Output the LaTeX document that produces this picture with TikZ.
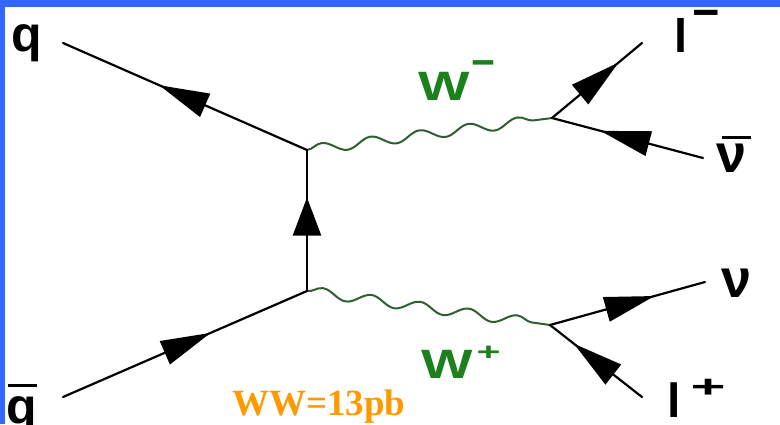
\documentclass[tikz,border=0pt]{standalone}
\usepackage{fontspec}
\setmainfont{Liberation Sans}
\newfontfamily\timesbold{Liberation Serif}[BoldFont={* Bold}]
\usetikzlibrary{arrows.meta,decorations.pathmorphing,decorations.markings}
\definecolor{frameblue}{RGB}{51,102,255}
\definecolor{bosongreen}{RGB}{47,95,47}
\definecolor{labelgreen}{RGB}{28,128,28}
\definecolor{xsorange}{RGB}{255,153,0}
\tikzset{
  % fermion leg with a filled arrow just past the middle
  fermion/.style={draw=black, line width=2.2pt, line cap=round,
    postaction={decorate},
    decoration={markings, mark=at position 0.5 with
      {\arrow[xshift=28pt]{Triangle[length=50pt,width=25pt]}}}},
  propagator/.style={draw=black, line width=2.2pt, line cap=round,
    postaction={decorate},
    decoration={markings, mark=at position 0.5 with
      {\arrow[xshift=23pt]{Triangle[length=38pt,width=28pt]}}}},
  boson/.style={draw=bosongreen, line width=2pt, line cap=round,
    decorate, decoration={snake, amplitude=5pt, segment length=#1}},
  biglabel/.style={inner sep=0pt, anchor=base west, font=\bfseries\fontsize{50}{50}\selectfont},
  wlabel/.style={inner sep=0pt, anchor=base west, text=labelgreen, font=\bfseries\fontsize{41}{41}\selectfont}
}
\begin{document}
\begin{tikzpicture}[x=1pt,y=-1pt]
  \useasboundingbox (0,0) rectangle (780,424);
  \fill[white] (0,0) rectangle (780,424);
  % frame bands
  \fill[frameblue] (0,0) rectangle (780,7);
  \fill[frameblue] (0,0) rectangle (5,424);

  % vertices
  \coordinate (v1) at (307,150);
  \coordinate (v2) at (307,291);
  \coordinate (v3) at (552,118);
  \coordinate (v4) at (550,325);
  % external legs
  \coordinate (qin)  at (63,43);
  \coordinate (qbin) at (63,397);
  \coordinate (lmout) at (642,43);
  \coordinate (nubout) at (703,158);
  \coordinate (nuout) at (705,282);
  \coordinate (lpout) at (642,397);

  % W bosons
  \draw[boson=49.4pt] (v1) -- (v3);
  \draw[boson=49.1pt] (v2) -- (v4);

  % fermion lines
  \draw[fermion] (v1) -- (qin);
  \draw[fermion] (qbin) -- (v2);
  \draw[propagator] (v2) -- (v1);
  \draw[fermion] (v3) -- (lmout);
  \draw[fermion] (nubout) -- (v3);
  \draw[fermion] (v4) -- (nuout);
  \draw[fermion] (lpout) -- (v4);

  % particle labels
  \node[biglabel] (lq) at (11,51) {q};
  \node[biglabel] (lqb) at (6,423) {\makebox[0pt][l]{\kern2pt\raisebox{36.5pt}{\rule{29pt}{3pt}}}q};
  \node[biglabel, font=\bfseries\fontsize{47}{47}\selectfont] (llm) at (674,52)
    {l\kern5pt\raisebox{24pt}[0pt][0pt]{−}};
  \node[biglabel, font=\bfseries\fontsize{54}{54}\selectfont] (lnub) at (716,172)
    {\makebox[0pt][l]{\kern6pt\raisebox{33pt}{\rule{29pt}{3pt}}}ν};
  \node[biglabel, font=\bfseries\fontsize{54}{54}\selectfont] (lnu) at (721,297) {ν};
  \node[biglabel, font=\bfseries\fontsize{48}{48}\selectfont] (llp) at (667,417)
    {l\kern10pt\raisebox{20pt}[0pt][0pt]{\scalebox{1.25}[0.65]{+}}};

  % boson labels
  \node[wlabel] (lwm) at (418,100)
    {\scalebox{1.33}[1]{W}\kern2pt\raisebox{24pt}[0pt][0pt]{−}};
  \node[wlabel] (lwp) at (421,378)
    {\scalebox{1.33}[1]{W}\kern4pt\raisebox{18pt}[0pt][0pt]{\scalebox{1.0}[0.6]{+}}};

  % cross section
  \node[inner sep=0pt, anchor=base west, text=xsorange,
        font=\timesbold\bfseries\fontsize{37}{37}\selectfont] (xs) at (232,415) {WW=13pb};
\end{tikzpicture}
\end{document}
